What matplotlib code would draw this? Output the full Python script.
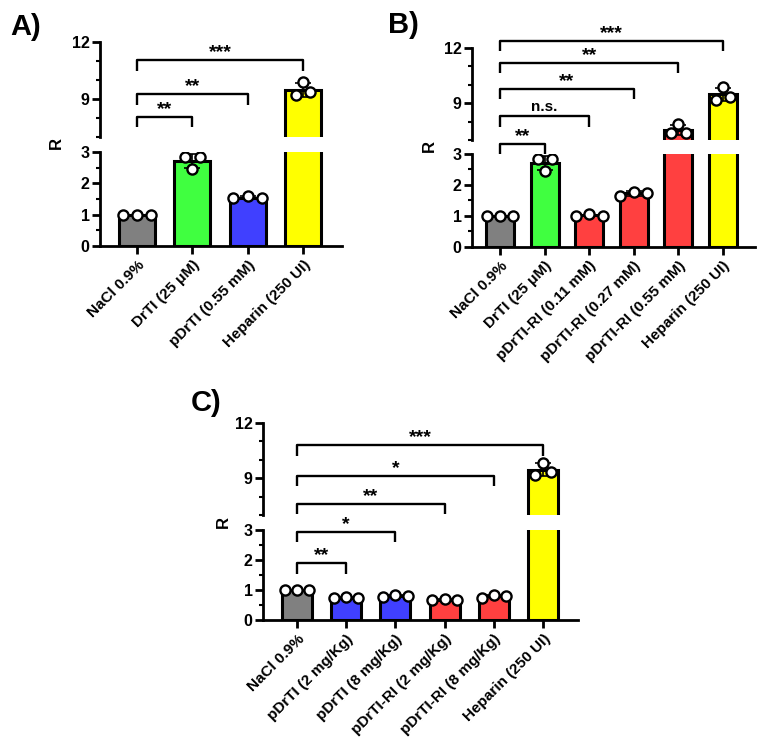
import numpy as np
import matplotlib
matplotlib.use('Agg')
import matplotlib.pyplot as plt

plt.rcParams['font.family'] = ['Liberation Sans', 'DejaVu Sans']
plt.rcParams['font.weight'] = 'bold'

# colours
GRAY = '#808080'
GREEN = '#40ff40'
BLUE = '#4040ff'
RED = '#ff4040'
YELLOW = '#ffff00'

# ---- panel A data
a_labels = ['NaCl 0.9%', 'DrTI (25 μM)', 'pDrTI (0.55 mM)', 'Heparin (250 UI)']
a_points = [[1.0, 1.0, 1.0], [2.85, 2.45, 2.85], [1.52, 1.6, 1.52], [9.2, 9.9, 9.35]]
a_colors = [GRAY, GREEN, BLUE, YELLOW]
a_stats = [(0, 1, 'top', 8.05, '**'), (0, 2, 'top', 9.26, '**'), (0, 3, 'top', 11.05, '***')]

# ---- panel B data
b_labels = ['NaCl 0.9%', 'DrTI (25 μM)', 'pDrTI-RI (0.11 mM)', 'pDrTI-RI (0.27 mM)',
            'pDrTI-RI (0.55 mM)', 'Heparin (250 UI)']
b_points = [[1.0, 1.0, 1.0], [2.85, 2.45, 2.85], [1.0, 1.05, 1.0], [1.65, 1.78, 1.75],
            [7.4, 7.85, 7.4], [9.2, 9.9, 9.35]]
b_colors = [GRAY, GREEN, RED, RED, RED, YELLOW]
b_stats = [(0, 1, 'top', 6.8, '**'), (0, 2, 'top', 8.28, 'n.s.'), (0, 3, 'top', 9.76, '**'),
           (0, 4, 'top', 11.18, '**'), (0, 5, 'top', 12.38, '***')]

# ---- panel C data
c_labels = ['NaCl 0.9%', 'pDrTI (2 mg/Kg)', 'pDrTI (8 mg/Kg)', 'pDrTI-RI (2 mg/Kg)',
            'pDrTI-RI (8 mg/Kg)', 'Heparin (250 UI)']
c_points = [[1.0, 1.0, 1.0], [0.72, 0.76, 0.75], [0.78, 0.82, 0.8], [0.66, 0.7, 0.67],
            [0.75, 0.82, 0.8], [9.2, 9.85, 9.35]]
c_colors = [GRAY, BLUE, BLUE, RED, RED, YELLOW]
c_stats = [(0, 1, 'low', 1.89, '**'), (0, 2, 'low', 2.94, '*'), (0, 3, 'top', 7.58, '**'),
           (0, 4, 'top', 9.13, '*'), (0, 5, 'top', 10.78, '***')]

W, H = 771, 749


def px_axes(fig, xl, xr, yt, yb):
    return fig.add_axes([xl / W, 1 - yb / H, (xr - xl) / W, (yb - yt) / H])


def panel(fig, box, labels, points, colors, stats, xlim, width, spread, letter, letter_xy, r_xy):
    xl, xr, yt1, yb1, yt2, yb2 = box
    top = px_axes(fig, xl, xr, yt1, yb1)
    low = px_axes(fig, xl, xr, yt2, yb2)
    x = np.arange(len(labels))
    means = [np.mean(p) for p in points]
    sds = [np.std(p, ddof=1) for p in points]
    for ax in (top, low):
        ax.bar(x, means, width=width, color=colors, edgecolor='black', linewidth=2.2, zorder=2)
        ax.errorbar(x, means, yerr=sds, fmt='none', ecolor='black', elinewidth=1.2,
                    capsize=6, capthick=1.2, zorder=3)
        for i, p in enumerate(points):
            sp = spread[i]
            ax.plot(x[i] + np.array([-sp, 0, sp]), p, 'o', ms=7.3, mfc='white', mec='black',
                    mew=1.7, zorder=4, clip_on=True)
        ax.set_xlim(*xlim)
        for s in ('top', 'right'):
            ax.spines[s].set_visible(False)
        ax.spines['left'].set_linewidth(2)
        ax.tick_params(axis='y', which='major', length=5.5, width=2, labelsize=11.5, pad=2)
        ax.tick_params(axis='y', which='minor', length=3, width=1.5)
    top.set_ylim(7, 12)
    top.set_yticks([9, 12])
    top.set_yticks([7, 8, 10, 11], minor=True)
    top.spines['bottom'].set_visible(False)
    top.set_xticks([])
    low.set_ylim(0, 3)
    low.set_yticks([0, 1, 2, 3])
    low.set_yticks([0.5, 1.5, 2.5], minor=True)
    low.spines['bottom'].set_linewidth(2)
    low.set_xticks(x)
    low.set_xticklabels(labels, rotation=45, ha='right', rotation_mode='anchor', fontsize=11)
    low.tick_params(axis='x', length=5.5, width=2, pad=3)
    for lab in low.get_yticklabels() + top.get_yticklabels() + low.get_xticklabels():
        lab.set_fontweight('bold')

    for i, j, where, y, txt in stats:
        ax = top if where == 'top' else low
        leg = 0.55 if where == 'top' else 0.34
        ax.plot([x[i], x[i], x[j], x[j]], [y - leg, y, y, y - leg], color='black',
                lw=1.7, clip_on=False, zorder=5, solid_capstyle='butt')
        if txt == 'n.s.':
            dy = 0.12 if where == 'top' else 0.07
            ax.text((x[i] + x[j]) / 2, y + dy, txt, ha='center', va='bottom', fontsize=11,
                    fontweight='bold', clip_on=False)
        else:
            dy = -0.05 if where == 'top' else -0.03
            ax.text((x[i] + x[j]) / 2, y + dy, txt, ha='center', va='bottom', fontsize=14,
                    fontweight='bold', clip_on=False)

    fig.text(letter_xy[0] / W, 1 - letter_xy[1] / H, letter, fontsize=21, fontweight='bold',
             ha='left', va='center')
    fig.text(r_xy[0] / W, 1 - r_xy[1] / H, 'R', fontsize=12, fontweight='bold', rotation=90,
             ha='center', va='center')


fig = plt.figure(figsize=(W / 100, H / 100), dpi=100)

panel(fig, (100, 342, 42, 137, 152, 246), a_labels, a_points, a_colors, a_stats,
      (-0.67, 3.7), 0.65, [0.25, 0.13, 0.26, 0.13], 'A)', (10, 27), (56, 143))
panel(fig, (472, 755, 48, 140, 154, 247), b_labels, b_points, b_colors, b_stats,
      (-0.63, 5.72), 0.63, [0.3, 0.16, 0.3, 0.3, 0.17, 0.16], 'B)', (388, 25), (429, 146))
panel(fig, (263, 578, 423, 515, 530, 620), c_labels, c_points, c_colors, c_stats,
      (-0.69, 5.71), 0.61, [0.25, 0.25, 0.25, 0.25, 0.25, 0.16], 'C)', (191, 403), (223, 522))

fig.savefig('out.png', dpi=100)
